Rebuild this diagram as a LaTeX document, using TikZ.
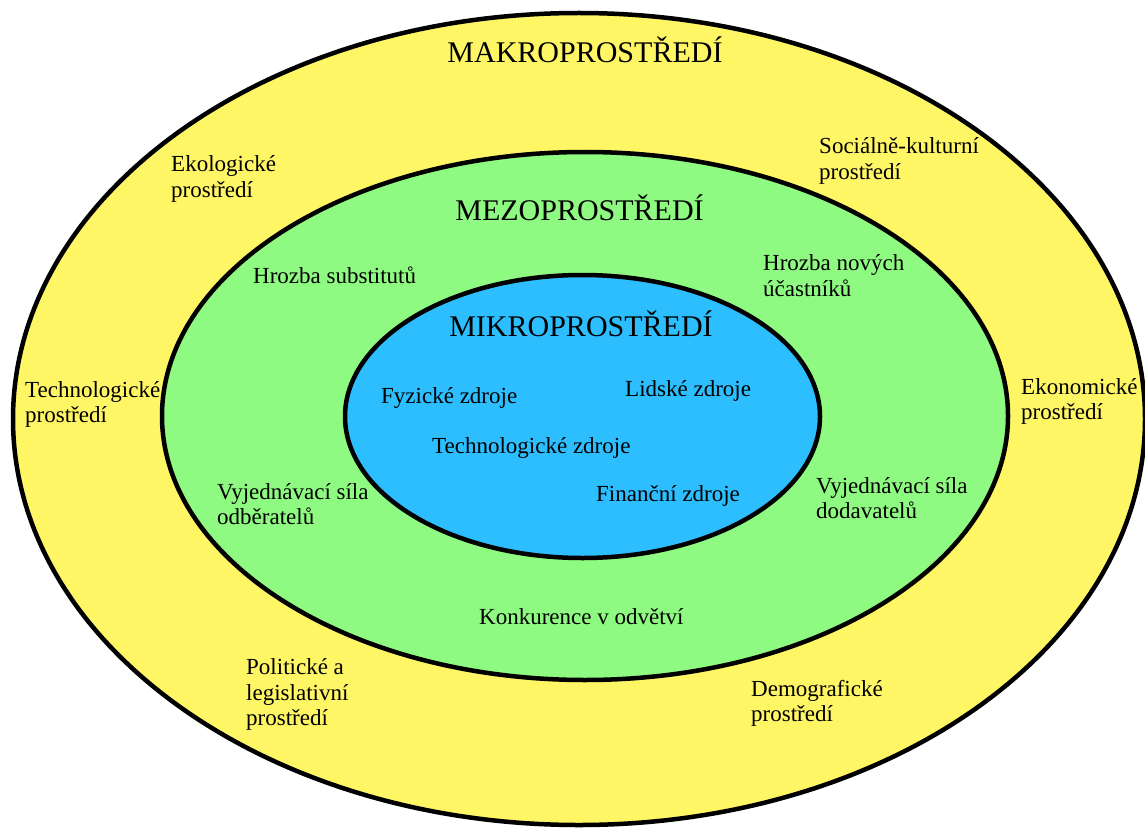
\documentclass[tikz,border=0pt]{standalone}
\usepackage{fontspec}
\setmainfont{Liberation Serif}
\definecolor{makro}{RGB}{255,246,102}
\definecolor{mezo}{RGB}{143,250,129}
\definecolor{mikro}{RGB}{44,190,255}
\begin{document}
\begin{tikzpicture}[x=1pt,y=-1pt,
  ring/.style={draw=black,line width=4.5pt},
  % labels are placed by the baseline of their last line
  label/.style={anchor=base west,align=left,inner sep=0pt,text=black,
    font=\fontsize{23}{25.5}\selectfont},
  title/.style={anchor=base,inner sep=0pt,text=black,
    font=\fontsize{30}{34}\selectfont}]
\useasboundingbox (0,0) rectangle (1145,829);
\begin{scope}
\clip (0,0) rectangle (1145,829);
% three nested environments
\path[ring,fill=makro] (579,419) ellipse [x radius=566,y radius=406];
\path[ring,fill=mezo] (585,416) ellipse [x radius=423,y radius=264];
\path[ring,fill=mikro] (582.5,416.5) ellipse [x radius=237.5,y radius=141.5];
\end{scope}

% headings
\node[title] (makro) at (585,63) {MAKROPROSTŘEDÍ};
\node[title] (mezo) at (579.5,220) {MEZOPROSTŘEDÍ};
\node[title] (mikro) at (581,336) {MIKROPROSTŘEDÍ};

% macro environment factors
\node[label] (eko) at (171,197.5) {Ekologické\\prostředí};
\node[label] (soc) at (819,179.5) {Sociálně-kulturní\\prostředí};
\node[label] (tech) at (25,422.5) {Technologické\\prostředí};
\node[label] (ekon) at (1021,419.5) {Ekonomické\\prostředí};
\node[label] (pol) at (246,725.5) {Politické a\\legislativní\\prostředí};
\node[label] (demo) at (751,721.5) {Demografické\\prostředí};

% industry forces
\node[label] (subst) at (253,283) {Hrozba substitutů};
\node[label] (novi) at (763,296) {Hrozba nových\\účastníků};
\node[label] (odb) at (217,524.5) {Vyjednávací síla\\odběratelů};
\node[label] (dod) at (816,518.5) {Vyjednávací síla\\dodavatelů};
\node[label] (konk) at (479,624) {Konkurence v odvětví};

% internal resources
\node[label] (fyz) at (381,403) {Fyzické zdroje};
\node[label] (lid) at (625,396) {Lidské zdroje};
\node[label] (techz) at (432,453) {Technologické zdroje};
\node[label] (fin) at (596,501) {Finanční zdroje};
\end{tikzpicture}
\end{document}
